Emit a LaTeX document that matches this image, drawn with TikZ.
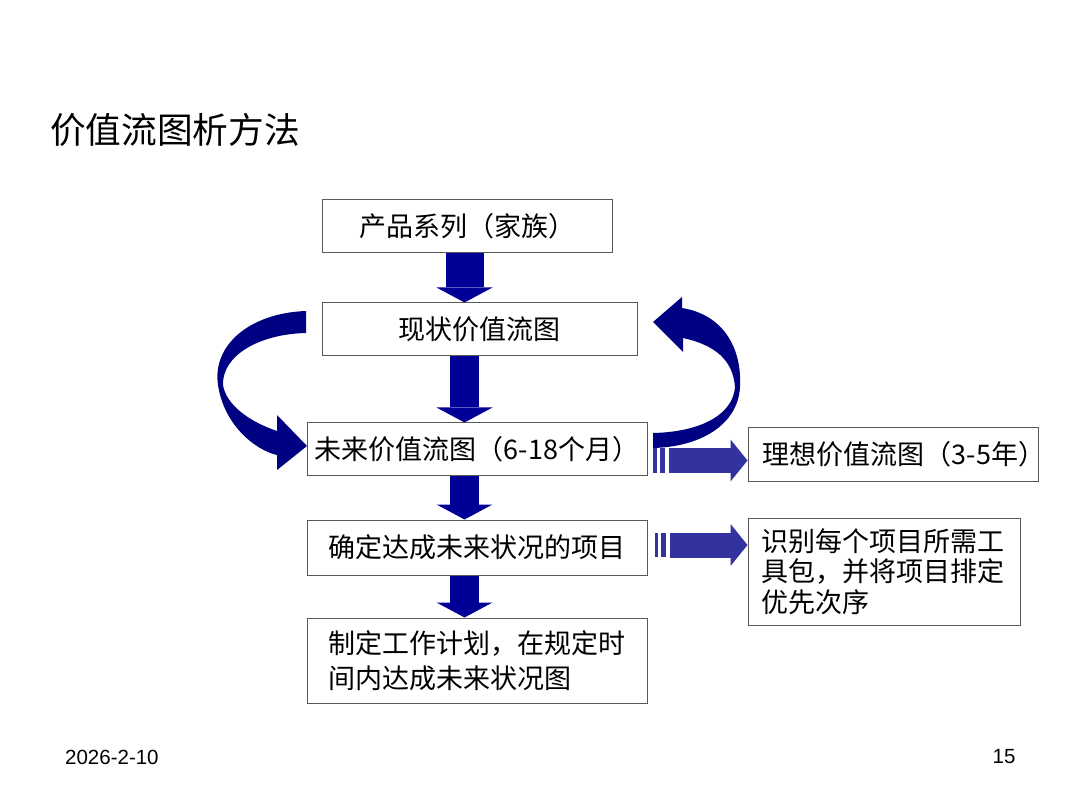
\documentclass[tikz,border=0pt]{standalone}
\usepackage{fontspec}
\setmainfont{Liberation Sans}
\newfontfamily\cjk{Noto Sans CJK SC}
\usetikzlibrary{arrows.meta}
\definecolor{dkblue}{RGB}{0,0,150}
\definecolor{curvblue}{RGB}{0,0,130}
\definecolor{stripeblue}{RGB}{51,51,160}
\begin{document}
\begin{tikzpicture}[x=1pt,y=-1pt,
  box/.style={draw=black!65, line width=1pt, fill=white, inner sep=0pt,
    font=\cjk\fontsize{27}{30}\selectfont, minimum height=53pt},
  downarr/.style={dkblue, line width=29pt,
    -{Triangle[width=56pt,length=15pt,line width=0pt]}},
  sidearr/.style={stripeblue, line width=25pt,
    -{Triangle[width=42pt,length=17pt,line width=0pt]}},
  stripe/.style={fill=stripeblue},
  curved/.style={fill=curvblue}]
\useasboundingbox (0,0) rectangle (1080,810);
\fill[white] (0,0) rectangle (1080,810);

% title and footer
\node[anchor=west, inner sep=0pt, font=\cjk\fontsize{35.7}{40}\selectfont] (title) at (50,130) {价值流图析方法};
\node[anchor=west, inner sep=0pt, font=\fontsize{20.5}{22}\selectfont] (date) at (65,757) {2026-2-10};
\node[inner sep=0pt, font=\fontsize{20.5}{22}\selectfont] (page) at (1004,757) {15};

% curved arrows
\path[curved] (306,311) .. controls (250,313) and (212,345) .. (218,385)
  .. controls (224,425) and (255,450) .. (277,455) -- (277,470) -- (307,446)
  -- (277,415) -- (277,431) .. controls (250,422) and (226,405) .. (223,385)
  .. controls (222,355) and (260,334) .. (306,333) -- cycle;
\path[curved] (682,308) .. controls (725,315) and (742,350) .. (740,387)
  .. controls (738,425) and (700,447) .. (653,448) -- (653,433)
  .. controls (700,432) and (733,415) .. (735,387)
  .. controls (733,360) and (715,345) .. (683,338) -- (683,352) -- (653,322)
  -- (682,297) -- cycle;

% boxes
\node[box, minimum width=290pt] (b1) at (467,226.5) {产品系列（家族）};
\node[box, minimum width=315pt] (b2) at (479.5,329.5) {现状价值流图};
\node[box, minimum width=340pt] (b3) at (477,449.5) {未来价值流图（6-18个月）};
\node[box, minimum width=340pt, minimum height=55pt] (b4) at (477,547.5) {确定达成未来状况的项目};
\node[box, minimum width=340pt, minimum height=85pt, text width=298pt, inner xsep=21pt, align=left,
  font=\cjk\fontsize{27}{35}\selectfont] (b5) at (477,660.5) {制定工作计划，在规定时\\间内达成未来状况图};
\node[box, minimum width=290pt] (b6) at (893,454.5) {\hspace*{11pt}理想价值流图（3-5年）\hspace*{-11pt}};
\node[box, minimum width=272pt, minimum height=107pt, text width=246pt, inner xsep=13pt, align=left,
  font=\cjk\fontsize{27}{30.5}\selectfont] (b7) at (884,571.5) {识别每个项目所需工\\具包，并将项目排定\\优先次序};

% down arrows
\coordinate (ax) at (464.5,0);
\draw[downarr, line width=38pt] (b1.south -| ax) -- (b2.north -| ax);
\draw[downarr] (b2.south -| ax) -- (b3.north -| ax);
\draw[downarr] (b3.south -| ax) -- (b4.north -| ax);
\draw[downarr] (b4.south -| ax) -- (b5.north -| ax);

% striped side arrows
\coordinate (s1) at (669,460.5);
\coordinate (s2) at (670,545);
\fill[stripe] (653,448) rectangle (657,473);
\fill[stripe] (660,448) rectangle (665,473);
\draw[sidearr] (s1) -- (b6.west |- s1);
\fill[stripe] (655,533) rectangle (658,557);
\fill[stripe] (661,533) rectangle (666,557);
\draw[sidearr] (s2) -- (b7.west |- s2);
\end{tikzpicture}
\end{document}
